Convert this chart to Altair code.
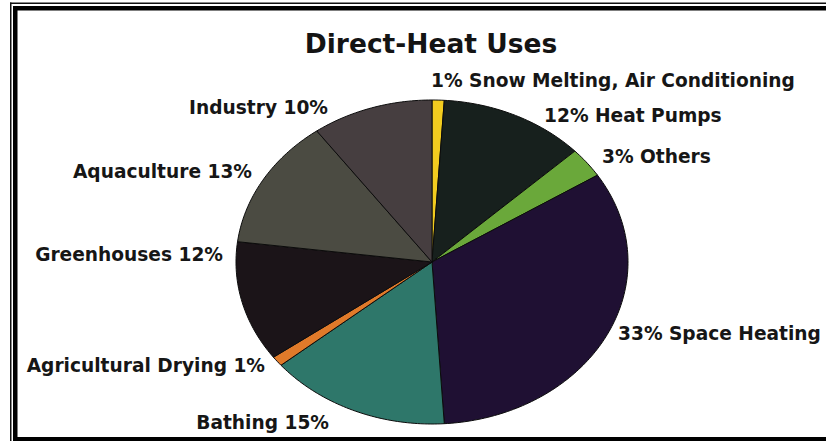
import altair as alt
import numpy as np

# Shares of geothermal direct-heat use, listed clockwise from 12 o'clock
uses = [
    "Snow Melting, Air Conditioning",
    "Heat Pumps",
    "Others",
    "Space Heating",
    "Bathing",
    "Agricultural Drying",
    "Greenhouses",
    "Aquaculture",
    "Industry",
]
shares = [1, 12, 3, 33, 15, 1, 12, 13, 10]
colors = [
    "#f2cc1f",
    "#17201d",
    "#6aa83a",
    "#1f1033",
    "#2e776a",
    "#e07a2a",
    "#1b1418",
    "#4b4b42",
    "#463e40",
]

# Pie geometry (pixels): a flattened pie, wider than tall
CX, CY = 432, 262
RX, RY = 196, 162

# Label anchors: (x, y, align)
LABEL_LAYOUT = {
    "Snow Melting, Air Conditioning": (431, 81, "left"),
    "Heat Pumps": (544, 116, "left"),
    "Others": (602, 157, "left"),
    "Space Heating": (618, 334, "left"),
    "Bathing": (329, 423, "right"),
    "Agricultural Drying": (265, 366, "right"),
    "Greenhouses": (223, 255, "right"),
    "Aquaculture": (252, 172, "right"),
    "Industry": (328, 108, "right"),
}

FONT = "DejaVu Sans"

# Build one polygon per slice from the cumulative shares
total = float(sum(shares))
edges = np.concatenate([[0.0], np.cumsum(shares)]) / total * 2 * np.pi
features = []
for use, a0, a1 in zip(uses, edges[:-1], edges[1:]):
    n = max(2, int(np.ceil(np.degrees(a1 - a0))) + 1)
    t = np.linspace(a0, a1, n)
    ring = [[0.0, 0.0]] + [[RX * np.sin(a), RY * np.cos(a)] for a in t] + [[0.0, 0.0]]
    features.append({
        "type": "Feature",
        "properties": {"use": use},
        "geometry": {"type": "Polygon", "coordinates": [ring[::-1]]},
    })

slices = alt.Chart(alt.Data(values=features)).mark_geoshape(
    stroke="#0c0c0c", strokeWidth=1, strokeJoin="round"
).encode(
    color=alt.Color(
        "properties.use:N",
        scale=alt.Scale(domain=uses, range=colors),
        legend=None,
    )
).project(
    type="identity", reflectY=True, scale=1, translate=[CX, CY]
)

# Label table
rows = []
for use, share in zip(uses, shares):
    x, y, align = LABEL_LAYOUT[use]
    text = f"{share}% {use}" if align == "left" else f"{use} {share}%"
    rows.append({"use": use, "label": text, "x": x, "y": y, "align": align})

label_src = alt.Data(values=rows)

def label_layer(align):
    return alt.Chart(label_src).transform_filter(
        alt.datum.align == align
    ).mark_text(
        align=align, baseline="middle", font=FONT, fontSize=18.6,
        fontWeight="bold", color="#161616"
    ).encode(
        x=alt.X("x:Q", scale=None),
        y=alt.Y("y:Q", scale=None),
        text="label:N",
    )

title = alt.Chart(alt.Data(values=[{"t": "Direct-Heat Uses"}])).mark_text(
    align="center", baseline="middle", font=FONT, fontSize=26.5,
    fontWeight="bold", color="#141414"
).encode(x=alt.value(431), y=alt.value(45), text="t:N")

# Double-line frame on the top, left and bottom edges
one = alt.Data(values=[{}])
frame_thin = alt.Chart(one).mark_rect(color="#111111")
frame_thick = alt.Chart(one).mark_rect(color="#000000")
frame = [
    frame_thin.encode(x=alt.value(10), x2=alt.value(826), y=alt.value(2.5), y2=alt.value(4)),
    frame_thin.encode(x=alt.value(10), x2=alt.value(11.5), y=alt.value(2.5), y2=alt.value(441)),
    frame_thick.encode(x=alt.value(13), x2=alt.value(826), y=alt.value(6), y2=alt.value(10.5)),
    frame_thick.encode(x=alt.value(13), x2=alt.value(17.5), y=alt.value(6), y2=alt.value(441)),
    frame_thick.encode(x=alt.value(13), x2=alt.value(826), y=alt.value(437), y2=alt.value(441)),
]

chart = alt.layer(
    slices, label_layer("left"), label_layer("right"), title, *frame
).properties(
    width=826, height=441, padding=0, autosize="none", background="white"
).configure_view(stroke=None)

chart.save("out.html", embed_options={"renderer": "svg", "actions": False})
